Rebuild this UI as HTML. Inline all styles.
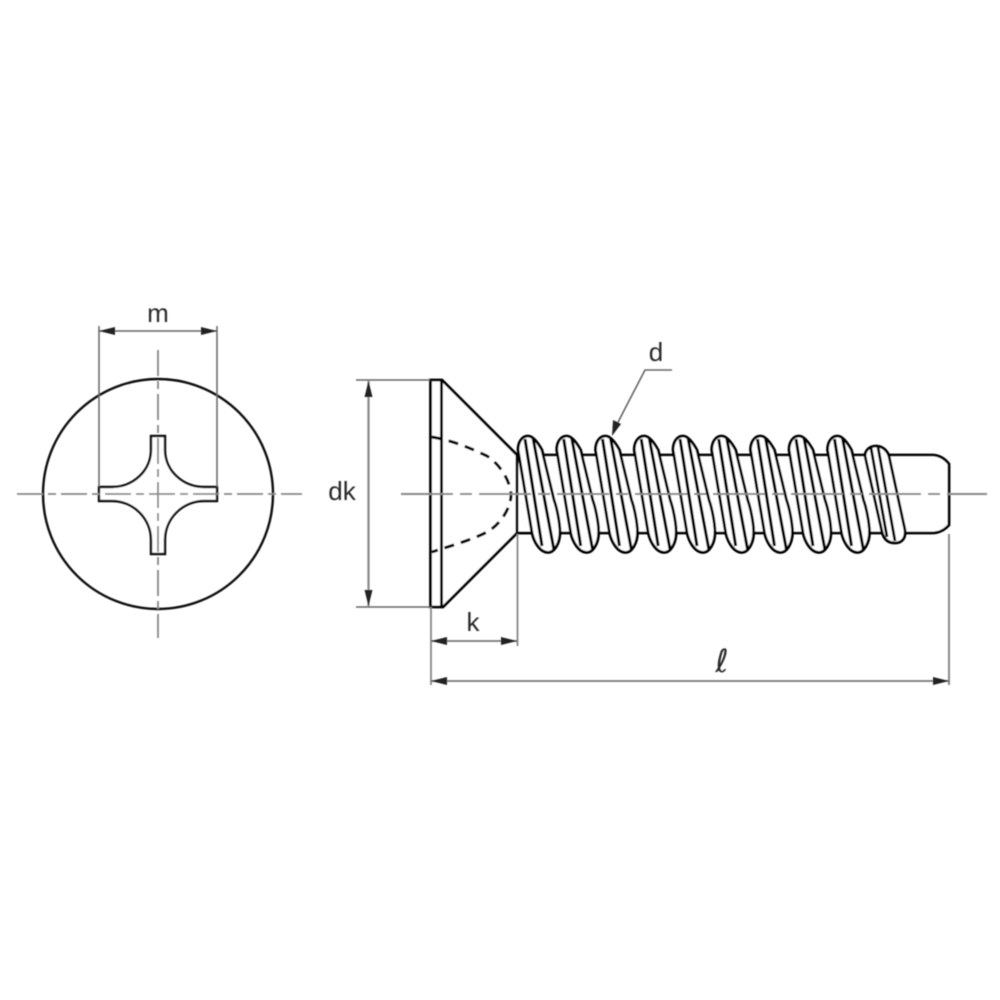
<!DOCTYPE html>
<html>
<head>
<meta charset="utf-8">
<style>
html,body{margin:0;padding:0;background:#fff;width:1000px;height:1000px;overflow:hidden}
svg{display:block}
text{font-family:"Liberation Sans",sans-serif;fill:#2a2a2a;text-anchor:middle}
</style>
</head>
<body>
<svg width="1000" height="1000" viewBox="0 0 1000 1000" xmlns="http://www.w3.org/2000/svg">
<defs>
<filter id="b" x="-5%" y="-5%" width="110%" height="110%"><feGaussianBlur stdDeviation="0.6"/></filter>
<g id="t">
<path d="M0,0 C-6,0 -10,6 -10,14 L4,97 C6,106 12,116.500 20,116.500 C26,116.500 32,108 32,96 C32,88 29,72 26,64 L14,14 C9,5 4,0 0,0 Z" fill="#fff" stroke="#000" stroke-width="2.8"/>
<path d="M-3,3 L14,110 M5,2 L26,114" fill="none" stroke="#000" stroke-width="3"/>
</g>
</defs>
<rect width="1000" height="1000" fill="#fff"/>
<g filter="url(#b)">
<!-- left view -->
<circle cx="158" cy="494" r="115" fill="none" stroke="#111" stroke-width="2.4"/>
<path d="M99,487 L112,487 A39,37 0 0 0 151,450 L151,436 L165,436 L165,450 A39,37 0 0 0 204,487 L217,487 L217,501 L204,501 A39,39 0 0 0 165,540 L165,554 L151,554 L151,540 A39,39 0 0 0 112,501 L99,501 Z" fill="#fff" stroke="#111" stroke-width="2.4"/>
<path d="M17,494 H302" stroke="#888" stroke-width="1.8" stroke-dasharray="26 5 8 5" fill="none"/>
<path d="M158,350 V638" stroke="#888" stroke-width="1.8" stroke-dasharray="26 5 8 5" fill="none"/>
<path d="M99,326 V487 M217,326 V487 M99,331 H217" stroke="#666" stroke-width="1.5" fill="none"/>
<path d="M99,331 L115,327 L115,335 Z M217,331 L201,327 L201,335 Z" fill="#222"/>
<text x="158" y="322" font-size="26">m</text>

<!-- shank + tip -->
<path d="M517,455 H932 Q942,455 949,464 V525 Q942,533 932,533 H517" fill="#fff" stroke="#000" stroke-width="2.8"/>
<!-- threads -->
<use href="#t" x="566.7" y="436"/>
<use href="#t" x="605.5" y="436"/>
<use href="#t" x="644.2" y="436"/>
<use href="#t" x="683" y="436"/>
<use href="#t" x="721.7" y="436"/>
<use href="#t" x="760.5" y="436"/>
<use href="#t" x="799" y="436"/>
<use href="#t" x="837.5" y="436"/>
<path d="M876,446 C870,446 865,450 865,456 L882,532 C884,540 889,543 895,543 C902,543 906,538 905,530 L889,456 C887,450 882,446 876,446 Z" fill="#fff" stroke="#000" stroke-width="2.8"/>
<path d="M871,448 L887,537 M878,447 L895,541" fill="none" stroke="#000" stroke-width="2.8"/>

<!-- head -->
<path d="M430.500,380 H442 L517,455 V533 L443,607 H430.500 Z" fill="#fff" stroke="#000" stroke-width="2.8"/>
<path d="M441.500,380 V607" stroke="#000" stroke-width="2.8" fill="none"/>
<path d="M517,533 H532" stroke="#000" stroke-width="2.8" fill="none"/>
<use href="#t" x="528" y="436"/>
<path d="M432,437 C455,441 472,449 487,456 C500,464 511,482 511,495 C511,508 500,525 487,532 C472,540 450,546 432,552" fill="none" stroke="#000" stroke-width="3" stroke-dasharray="10 7"/>

<!-- center line right -->
<path d="M401,494 H987" stroke="#888" stroke-width="2" stroke-dasharray="52 7 12 7" fill="none"/>

<!-- dk -->
<path d="M356,380 H430 M356,607 H430" stroke="#666" stroke-width="1.5" fill="none"/>
<path d="M368.500,381 V606" stroke="#888" stroke-width="2.2" fill="none"/>
<path d="M368.500,381 L364.500,397 L372.500,397 Z M368.500,606 L364.500,590 L372.500,590 Z" fill="#222"/>
<text x="342" y="500" font-size="26">dk</text>

<!-- k -->
<path d="M431,607 V685 M517.500,534 V646" stroke="#888" stroke-width="1.8" fill="none"/>
<path d="M431,641 H517" stroke="#777" stroke-width="1.8" fill="none"/>
<path d="M431,641 L447,637 L447,645 Z M517,641 L501,637 L501,645 Z" fill="#222"/>
<text x="473" y="631" font-size="26">k</text>

<!-- l -->
<path d="M949,534 V685" stroke="#888" stroke-width="2" fill="none"/>
<path d="M431,681 H949" stroke="#777" stroke-width="1.8" fill="none"/>
<path d="M431,681 L447,677 L447,685 Z M949,681 L933,677 L933,685 Z" fill="#222"/>
<text x="722" y="672" font-size="32" style="font-family:'DejaVu Sans','Liberation Sans',sans-serif">ℓ</text>

<!-- d -->
<path d="M672,370 H645 L615,428" stroke="#666" stroke-width="1.6" fill="none"/>
<path d="M612,436 L613,420 L621,424 Z" fill="#222"/>
<text x="656" y="361" font-size="26">d</text>
</g>
</svg>
</body>
</html>
